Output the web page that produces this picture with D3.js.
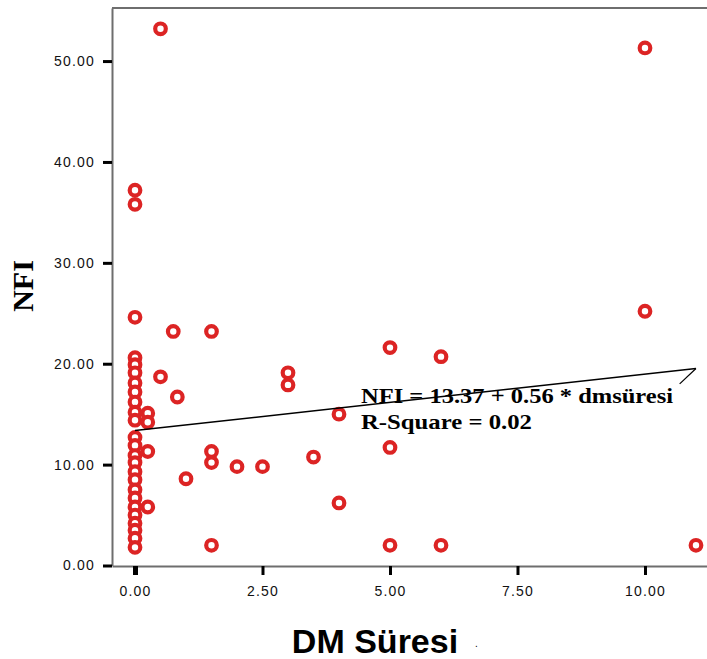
<!DOCTYPE html>
<html>
<head>
<meta charset="utf-8">
<script src="https://cdn.jsdelivr.net/npm/d3@7"></script>
<style>
  body { margin: 0; background: #fff; }
  svg { display: block; }
</style>
</head>
<body>
<svg id="chart" width="707" height="659"></svg>
<script>
// DM Süresi (years) vs NFI
const dmSuresi = [
    0, 0, 0, 0, 0, 0, 0, 0, 0, 0, 0, 0, 0, 0, 0, 0, 0, 0, 0, 0, 0, 0, 0, 0, 0,
    0.25, 0.25, 0.25, 0.25,
    0.5, 0.5, 0.75, 0.83, 1,
    1.5, 1.5, 1.5, 1.5,
    2, 2.5, 3, 3, 3.5, 4, 4,
    5, 5, 5, 6, 6, 10, 10, 11
];
const nfi = [
    37.2, 35.8, 24.6, 20.6, 19.9, 19.1, 18.1, 17.2, 16.2, 15.2, 14.4, 12.7, 11.9,
    10.9, 10.2, 9.3, 8.5, 7.5, 6.7, 5.8, 5.0, 4.2, 3.5, 2.7, 1.8,
    15.1, 14.2, 11.3, 5.8,
    53.2, 18.7, 23.2, 16.7, 8.6,
    23.2, 11.3, 10.2, 2.0,
    9.8, 9.8, 19.1, 17.9, 10.75, 15.0, 6.2,
    21.6, 11.7, 2.0, 20.7, 2.0, 51.3, 25.2, 2.0
];
const xTicks = [0, 2.5, 5, 7.5, 10];
const yTicks = [0, 10, 20, 30, 40, 50];
const intercept = 13.37;
const slope = 0.56;
const rSquare = 0.02;

const points = dmSuresi.map((d, i) => ({ x: d, y: nfi[i] }));

const svg = d3.select("#chart");

const xScale = d3.scaleLinear().domain([-0.451, 11.216]).range([112, 707]);
const yScale = d3.scaleLinear().domain([0, 55.26]).range([565.5, 8]);

const axisColor = "#6e6e6e";
const fmt = d3.format(".2f");

// y axis
const yAxis = svg.append("g")
    .attr("transform", "translate(112,0)")
    .call(d3.axisLeft(yScale).tickValues(yTicks).tickFormat(fmt).tickSize(9).tickSizeOuter(0).tickPadding(8));
yAxis.select(".domain").attr("stroke", axisColor).attr("stroke-width", 2);
yAxis.selectAll(".tick line").attr("stroke", "#000").attr("stroke-width", 3);
yAxis.selectAll(".tick text")
    .attr("font-family", "Liberation Sans, Arial, sans-serif")
    .attr("font-size", 14)
    .attr("letter-spacing", 1.2)
    .attr("fill", "#111");

// x axis
const xAxis = svg.append("g")
    .attr("transform", "translate(0,566)")
    .call(d3.axisBottom(xScale).tickValues(xTicks).tickFormat(fmt).tickSize(9).tickSizeOuter(0).tickPadding(11));
xAxis.select(".domain").attr("stroke", axisColor).attr("stroke-width", 2);
xAxis.selectAll(".tick line").attr("stroke", "#000")
    .attr("stroke-width", d => d === 0 ? 5 : 3);
xAxis.selectAll(".tick text")
    .attr("font-family", "Liberation Sans, Arial, sans-serif")
    .attr("font-size", 14)
    .attr("letter-spacing", 1.2)
    .attr("fill", "#111");

// top frame line
svg.append("line")
    .attr("x1", xScale.range()[0]).attr("x2", xScale.range()[1])
    .attr("y1", yScale.range()[1]).attr("y2", yScale.range()[1])
    .attr("stroke", axisColor).attr("stroke-width", 2);

// points
svg.append("g")
    .selectAll("circle")
    .data(points)
    .enter()
    .append("circle")
    .attr("cx", d => xScale(d.x))
    .attr("cy", d => yScale(d.y))
    .attr("r", 5.3)
    .attr("fill", "#fff")
    .attr("stroke", "#dc2424")
    .attr("stroke-width", 4.2);

// regression line
const fitX = [0, 11];
svg.append("line")
    .attr("x1", xScale(fitX[0])).attr("y1", yScale(intercept + slope * fitX[0]))
    .attr("x2", xScale(fitX[1])).attr("y2", yScale(intercept + slope * fitX[1]))
    .attr("stroke", "#000").attr("stroke-width", 1.5);

// callout tick from the line end
svg.append("line")
    .attr("x1", xScale(fitX[1])).attr("y1", yScale(intercept + slope * fitX[1]))
    .attr("x2", xScale(10.68)).attr("y2", yScale(18.0))
    .attr("stroke", "#000").attr("stroke-width", 1.2);

// equation annotation
const ann = svg.append("g")
    .attr("font-family", "Liberation Serif, Times New Roman, serif")
    .attr("font-weight", "bold")
    .attr("font-size", 21)
    .attr("fill", "#000");
ann.append("text")
    .attr("x", 361).attr("y", 403)
    .attr("textLength", 312)
    .attr("lengthAdjust", "spacingAndGlyphs")
    .text(`NFI = ${intercept} + ${slope} * dmsüresi`);
ann.append("text")
    .attr("x", 361).attr("y", 429)
    .attr("textLength", 171)
    .attr("lengthAdjust", "spacingAndGlyphs")
    .text(`R-Square = ${rSquare.toFixed(2)}`);

// axis titles
svg.append("text")
    .attr("transform", "translate(33,286) rotate(-90)")
    .attr("text-anchor", "middle")
    .attr("font-family", "Liberation Serif, Times New Roman, serif")
    .attr("font-weight", "bold")
    .attr("font-size", 30)
    .text("NFI");

svg.append("text")
    .attr("x", 375).attr("y", 653)
    .attr("text-anchor", "middle")
    .attr("font-family", "Liberation Sans, Arial, sans-serif")
    .attr("font-weight", "bold")
    .attr("font-size", 34)
    .text("DM Süresi");

svg.append("text")
    .attr("x", 475).attr("y", 647)
    .attr("font-family", "Liberation Sans, Arial, sans-serif")
    .attr("font-size", 10)
    .text(".");
</script>
</body>
</html>
